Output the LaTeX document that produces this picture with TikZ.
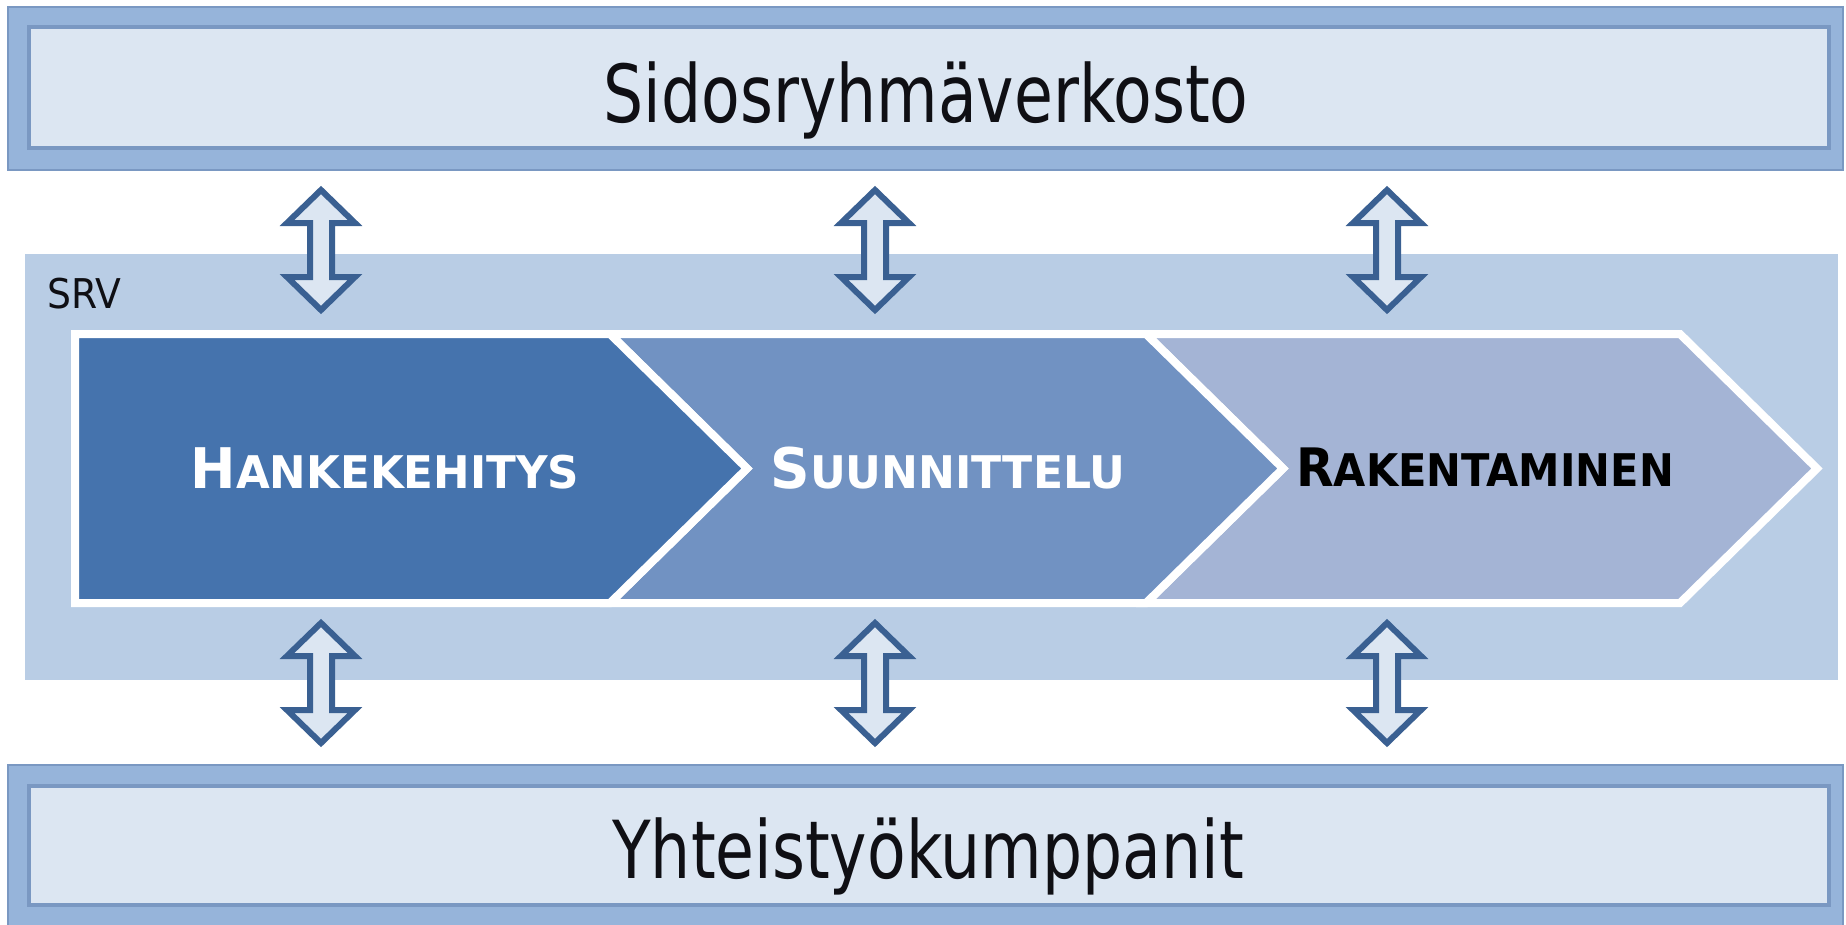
\documentclass[tikz,border=0pt]{standalone}
\usepackage{fontspec}
\usepackage{graphicx}
\setmainfont{DejaVu Sans}
\usetikzlibrary{calc}
\definecolor{barout}{RGB}{150,180,218}
\definecolor{barline}{RGB}{122,152,194}
\definecolor{barin}{RGB}{220,230,242}
\definecolor{srvbg}{RGB}{185,205,229}
\definecolor{chA}{RGB}{69,115,173}
\definecolor{chB}{RGB}{113,146,194}
\definecolor{chC}{RGB}{164,180,213}
\definecolor{arrdark}{RGB}{58,96,146}
\definecolor{txt}{RGB}{15,15,20}
\newcommand\hsc[2]{\scalebox{#1}[1]{#2}}
\newcommand\scl[4]{{\fontsize{#1}{#1}\selectfont #3}{\fontsize{#2}{#2}\selectfont #4}}
\tikzset{
  outerbar/.style={fill=barout, draw=barline, line width=1.5pt},
  innerbar/.style={fill=barin, draw=barline, line width=4pt},
  chev/.style={draw=white, line width=8pt, line join=miter},
  dblarrow/.style={fill=barin, draw=arrdark, line width=6pt, line join=miter},
  bigtext/.style={anchor=base, text=txt, inner sep=0pt},
  chevtext/.style={anchor=base, inner sep=0pt, font=\bfseries}
}
\begin{document}
\begin{tikzpicture}[x=1pt, y=-1pt]
\useasboundingbox (0,0) rectangle (1846,924);
% top bar
\path[outerbar] (8,7) rectangle (1843,170);
\path[innerbar] (29,27) rectangle (1829,148);
\node[bigtext] (top) at (926,122) {\hsc{0.79}{\fontsize{80}{80}\selectfont Sidosryhmäverkosto}};
% bottom bar
\path[outerbar] (8,765) rectangle (1843,930);
\path[innerbar] (29,786) rectangle (1829,905);
\node[bigtext] (bot) at (928,878) {\hsc{0.79}{\fontsize{80}{80}\selectfont Yhteistyökumppanit}};
% SRV area
\path[fill=srvbg] (25,254) rectangle (1838,680);
\node[anchor=base west, inner sep=0pt, text=txt] (srv) at (47,308) {\hsc{0.92}{\fontsize{41}{41}\selectfont SRV}};
% chevrons
\path[chev, fill=chC] (1146,334) -- (1680,334) -- (1817,468.5) -- (1680,603) -- (1146,603) -- (1283,468.5) -- cycle;
\path[chev, fill=chB] (610,334) -- (1146,334) -- (1283,468.5) -- (1146,603) -- (610,603) -- (747,468.5) -- cycle;
\path[chev, fill=chA] (75,334) -- (610,334) -- (747,468.5) -- (610,603) -- (75,603) -- cycle;
\node[chevtext, text=white] (c1) at (385,488) {\hsc{0.97}{\scl{56}{45}{H}{ANKEKEHITYS}}};
\node[chevtext, text=white] (c2) at (948,488) {\hsc{0.98}{\scl{56}{45}{S}{UUNNITTELU}}};
\node[chevtext, text=black] (c3) at (1485,486) {\hsc{0.925}{\scl{53}{45}{R}{AKENTAMINEN}}};
% double arrows
\foreach \cx/\ty [count=\i] in {321/190, 875/190, 1387/190, 321/623, 875/623, 1387/623}{
  \path[dblarrow] (\cx,\ty) -- ++(34,33) -- ++(-23,0) -- ++(0,54) -- ++(23,0) -- ++(-34,33)
     -- ++(-34,-33) -- ++(23,0) -- ++(0,-54) -- ++(-23,0) -- cycle;
}
\end{tikzpicture}
\end{document}
